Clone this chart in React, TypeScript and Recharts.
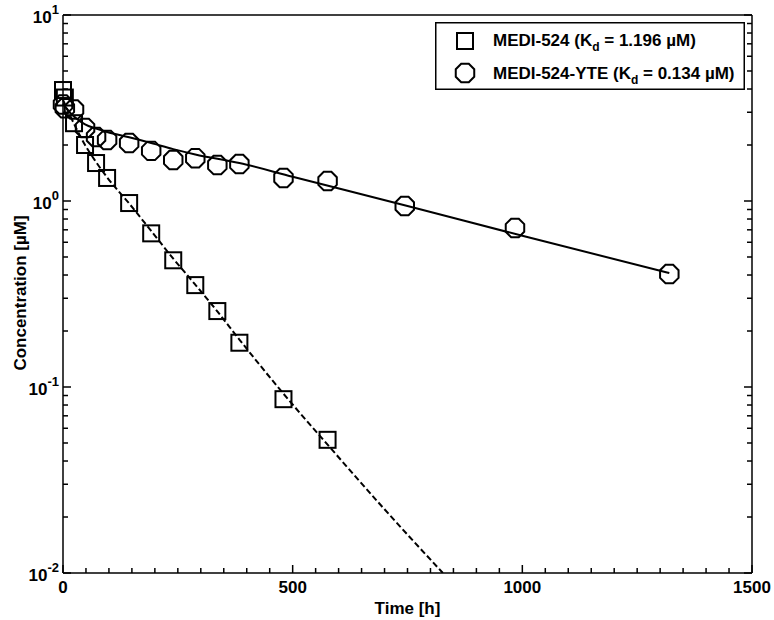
import { ComposedChart, Legend, Line, Scatter, XAxis, YAxis } from "recharts"

// measured points, MEDI-524 (squares)
const mediTime = [0, 4, 24, 48, 72, 96, 144, 192, 240, 288, 336, 384, 480, 576]
const mediConc = [3.95, 3.6, 2.62, 2.0, 1.6, 1.33, 0.975, 0.67, 0.48, 0.353, 0.256, 0.173, 0.086, 0.052]

// measured points, MEDI-524-YTE (octagons)
const yteTime = [0, 4, 24, 48, 72, 96, 144, 192, 240, 288, 336, 384, 480, 576, 744, 984, 1320]
const yteConc = [3.3, 3.15, 3.1, 2.47, 2.21, 2.13, 2.05, 1.86, 1.66, 1.7, 1.56, 1.58, 1.33, 1.28, 0.94, 0.716, 0.405]

// model fits
const mediFitTime = [0, 24, 48, 72, 96, 144, 192, 240, 288, 336, 384, 480, 576, 700, 827]
const mediFitConc = [3.5, 2.6, 2.0, 1.62, 1.34, 0.97, 0.69, 0.49, 0.355, 0.255, 0.18, 0.092, 0.049, 0.022, 0.01]

const yteFitTime = [0, 12, 24, 48, 72, 96, 144, 192, 240, 288, 384, 500, 750, 1000, 1320]
const yteFitConc = [3.35, 3.05, 2.85, 2.58, 2.45, 2.35, 2.2, 2.05, 1.9, 1.78, 1.6, 1.35, 0.94, 0.65, 0.41]

const xTicks = [
  0, 50, 100, 150, 200, 250, 300, 350, 400, 450, 500, 550, 600, 650, 700, 750,
  800, 850, 900, 950, 1000, 1050, 1100, 1150, 1200, 1250, 1300, 1350, 1400, 1450, 1500,
]
const xLabels = [0, 500, 1000, 1500]
const yTicks = [
  0.01, 0.02, 0.03, 0.04, 0.05, 0.06, 0.07, 0.08, 0.09,
  0.1, 0.2, 0.3, 0.4, 0.5, 0.6, 0.7, 0.8, 0.9,
  1, 2, 3, 4, 5, 6, 7, 8, 9, 10,
]
const yMajor = [0.01, 0.1, 1, 10]
const yExponents = ["-2", "-1", "0", "1"]

const mediPoints = mediTime.map((t, i) => ({ t, c: mediConc[i] }))
const ytePoints = yteTime.map((t, i) => ({ t, c: yteConc[i] }))
const mediFit = mediFitTime.map((t, i) => ({ t, c: mediFitConc[i] }))
const yteFit = yteFitTime.map((t, i) => ({ t, c: yteFitConc[i] }))

const font = "'Liberation Sans', Arial, sans-serif"

function octagon(cx: number, cy: number, r: number) {
  const pts = []
  for (let k = 0; k < 8; k++) {
    const a = ((22.5 + 45 * k) * Math.PI) / 180
    pts.push(`${cx + r * Math.cos(a)},${cy + r * Math.sin(a)}`)
  }
  return pts.join(" ")
}

const SquareDot = (p: any) => (
  <rect x={p.cx - 8} y={p.cy - 8} width={16} height={16} fill="none" stroke="#000" strokeWidth={2} />
)
const OctDot = (p: any) => (
  <polygon points={octagon(p.cx, p.cy, 10)} fill="none" stroke="#000" strokeWidth={2} />
)

const isMajorY = (v: number) => yMajor.includes(v)

function BottomTick({ x, y, payload }: any) {
  const major = xLabels.includes(payload.value)
  return (
    <g>
      <line x1={x} x2={x} y1={y} y2={y - (major ? 8 : 5)} stroke="#000" strokeWidth={1.5} />
      {major && (
        <text x={x} y={y + 20} textAnchor="middle" fontFamily={font} fontWeight="bold" fontSize={17} fill="#000">
          {payload.value}
        </text>
      )}
    </g>
  )
}

function TopTick({ x, y, payload }: any) {
  const major = xLabels.includes(payload.value)
  return <line x1={x} x2={x} y1={y} y2={y + (major ? 8 : 5)} stroke="#000" strokeWidth={1.5} />
}

function LeftTick({ x, y, payload }: any) {
  const major = isMajorY(payload.value)
  const exp = yExponents[yMajor.indexOf(payload.value)]
  return (
    <g>
      <line x1={x} x2={x + (major ? 8 : 5)} y1={y} y2={y} stroke="#000" strokeWidth={1.5} />
      {major && (
        <text x={x - 4} y={y + 8} textAnchor="end" fontFamily={font} fontWeight="bold" fontSize={17} fill="#000">
          <tspan>10</tspan>
          <tspan dy={-9} fontSize={13}>{exp}</tspan>
        </text>
      )}
    </g>
  )
}

function RightTick({ x, y, payload }: any) {
  const major = isMajorY(payload.value)
  return <line x1={x} x2={x - (major ? 8 : 5)} y1={y} y2={y} stroke="#000" strokeWidth={1.5} />
}

function YTitle() {
  return (
    <text
      x={26}
      y={293}
      transform="rotate(-90, 26, 293)"
      textAnchor="middle"
      fontFamily={font}
      fontWeight="bold"
      fontSize={17}
      fill="#000"
    >
      Concentration [µM]
    </text>
  )
}

function LegendBox() {
  const txt = { fontFamily: font, fontWeight: "bold" as const, fontSize: 17, fill: "#000" }
  return (
    <svg width={310} height={68}>
      <rect x={0.75} y={0.75} width={308.5} height={66.5} fill="#fff" stroke="#000" strokeWidth={1.5} />
      <rect x={22} y={11} width={16} height={16} fill="none" stroke="#000" strokeWidth={2} />
      <polygon points={octagon(30, 51, 10)} fill="none" stroke="#000" strokeWidth={2} />
      <text x={58} y={24} {...txt}>
        MEDI-524 (K<tspan dy={5} fontSize={12}>d</tspan>
        <tspan dy={-5}> = 1.196 µM)</tspan>
      </text>
      <text x={58} y={57} {...txt}>
        MEDI-524-YTE (K<tspan dy={5} fontSize={12}>d</tspan>
        <tspan dy={-5}> = 0.134 µM)</tspan>
      </text>
    </svg>
  )
}

export default function App() {
  return (
    <div style={{ position: "absolute", left: 0, top: 0 }}>
      <ComposedChart width={774} height={620} margin={{ top: 0, right: 0, bottom: 0, left: 0 }}>
        <XAxis
          dataKey="t"
          type="number"
          domain={[0, 1500]}
          ticks={xTicks}
          interval={0}
          tickSize={0}
          tickMargin={0}
          tick={BottomTick}
          axisLine={{ stroke: "#000", strokeWidth: 1.5 }}
          height={47}
          label={{
            value: "Time [h]",
            position: "insideBottom",
            offset: 6,
            style: { fontFamily: font, fontWeight: "bold", fontSize: 17, fill: "#000" },
          }}
        />
        <XAxis
          xAxisId="top"
          orientation="top"
          dataKey="t"
          type="number"
          domain={[0, 1500]}
          ticks={xTicks}
          interval={0}
          tickSize={0}
          tickMargin={0}
          tick={TopTick}
          axisLine={{ stroke: "#000", strokeWidth: 1.5 }}
          height={15}
        />
        <YAxis
          scale="log"
          domain={[0.01, 10]}
          allowDataOverflow
          ticks={yTicks}
          interval={0}
          tickSize={0}
          tickMargin={0}
          tick={LeftTick}
          axisLine={{ stroke: "#000", strokeWidth: 1.5 }}
          width={63}
          label={<YTitle />}
        />
        <YAxis
          yAxisId="right"
          orientation="right"
          scale="log"
          domain={[0.01, 10]}
          allowDataOverflow
          ticks={yTicks}
          interval={0}
          tickSize={0}
          tickMargin={0}
          tick={RightTick}
          axisLine={{ stroke: "#000", strokeWidth: 1.5 }}
          width={22}
        />
        <Line
          data={mediFit}
          dataKey="c"
          type="monotone"
          stroke="#000"
          strokeWidth={2}
          strokeDasharray="6 3"
          dot={false}
          activeDot={false}
          isAnimationActive={false}
        />
        <Line
          data={yteFit}
          dataKey="c"
          type="monotone"
          stroke="#000"
          strokeWidth={2}
          dot={false}
          activeDot={false}
          isAnimationActive={false}
        />
        <Scatter data={mediPoints} dataKey="c" shape={SquareDot} isAnimationActive={false} />
        <Scatter data={ytePoints} dataKey="c" shape={OctDot} isAnimationActive={false} />
        <Legend
          verticalAlign="middle"
          content={() => <LegendBox />}
          wrapperStyle={{ position: "absolute", left: 435, top: 22, width: 310, height: 68 }}
        />
      </ComposedChart>
    </div>
  )
}
